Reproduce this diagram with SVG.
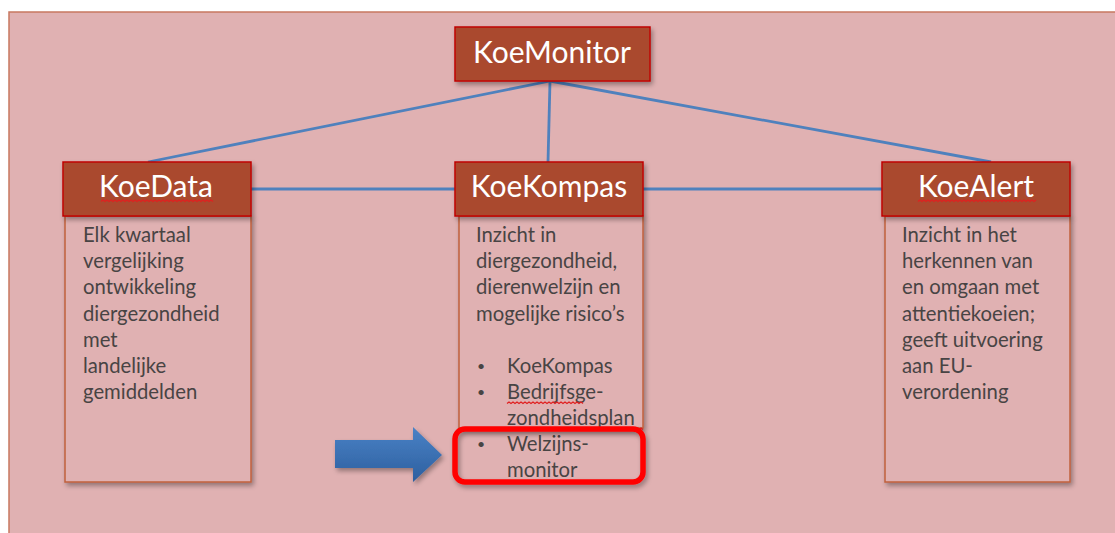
<svg xmlns="http://www.w3.org/2000/svg" width="1115" height="533" viewBox="0 0 1115 533">
<style>
.hdr{fill:#aa4a2e;stroke:#c00000;stroke-width:1.5}
.body{fill:#e0b1b2;stroke:#c0603c;stroke-width:1.5}
.ht{font-family:Lato,"Liberation Sans",sans-serif;font-size:30px;fill:#ffffff;text-anchor:middle}
.bt{font-family:Lato,"Liberation Sans",sans-serif;font-size:20.3px;fill:#484444}
.bul{font-family:Lato,"Liberation Sans",sans-serif;font-size:14px;fill:#484444}
.conn{stroke:#4f81bd;stroke-width:2.8;fill:none}
.wavy{stroke:#e02020;stroke-width:1.2;fill:none}
</style>
<defs>
<filter id="sh" x="-10%" y="-10%" width="130%" height="130%">
<feGaussianBlur in="SourceAlpha" stdDeviation="2.5"/>
<feOffset dx="2" dy="3" result="b"/>
<feComponentTransfer><feFuncA type="linear" slope="0.35"/></feComponentTransfer>
<feMerge><feMergeNode/><feMergeNode in="SourceGraphic"/></feMerge>
</filter>
<linearGradient id="ag" x1="0" y1="0" x2="0" y2="1">
<stop offset="0" stop-color="#4a82c6"/>
<stop offset="1" stop-color="#2d5f9f"/>
</linearGradient>
</defs>
<rect x="0" y="0" width="1115" height="533" fill="#ffffff"/>
<rect x="9" y="12" width="1115" height="530" fill="#e0b1b2" stroke="#c87860" stroke-width="1.5"/>
<g id="connectors">
<line class="conn" x1="550" y1="81" x2="148" y2="162"/>
<line class="conn" x1="550" y1="81" x2="548" y2="162"/>
<line class="conn" x1="550" y1="81" x2="991" y2="162"/>
<line class="conn" x1="251" y1="189" x2="455" y2="189"/>
<line class="conn" x1="643" y1="189" x2="882" y2="189"/>
</g>
<g id="koemonitor">
<rect class="hdr" x="455" y="27" width="195" height="54" filter="url(#sh)"/>
<text class="ht" x="552" y="63">KoeMonitor</text>
</g>
<g id="koedata">
<rect class="body" x="65" y="216" width="186" height="266" filter="url(#sh)"/>
<rect class="hdr" x="63" y="162" width="188" height="54" filter="url(#sh)"/>
<text class="ht" x="156" y="197">KoeData</text>
<path class="wavy" d="M101 201.5 l2 -1.5 l2 1.5 l2 -1.5 l2 1.5 l2 -1.5 l2 1.5 l2 -1.5 l2 1.5 l2 -1.5 l2 1.5 l2 -1.5 l2 1.5 l2 -1.5 l2 1.5 l2 -1.5 l2 1.5 l2 -1.5 l2 1.5 l2 -1.5 l2 1.5 l2 -1.5 l2 1.5 l2 -1.5 l2 1.5 l2 -1.5 l2 1.5 l2 -1.5 l2 1.5 l2 -1.5 l2 1.5 l2 -1.5 l2 1.5 l2 -1.5 l2 1.5 l2 -1.5 l2 1.5 l2 -1.5 l2 1.5 l2 -1.5 l2 1.5 l2 -1.5 l2 1.5 l2 -1.5 l2 1.5 l2 -1.5 l2 1.5 l2 -1.5 l2 1.5 l2 -1.5 l2 1.5 l2 -1.5 l2 1.5 l2 -1.5 l2 1.5 l2 -1.5 l2 1.5"/>
<text class="bt" x="83" y="242">Elk kwartaal</text>
<text class="bt" x="83" y="268">vergelijking</text>
<text class="bt" x="83" y="294">ontwikkeling</text>
<text class="bt" x="83" y="321">diergezondheid</text>
<text class="bt" x="83" y="347">met</text>
<text class="bt" x="83" y="373">landelijke</text>
<text class="bt" x="83" y="399">gemiddelden</text>
</g>
<g id="koekompas">
<rect class="body" x="459" y="216" width="184" height="212" filter="url(#sh)"/>
<rect class="hdr" x="455" y="162" width="188" height="54" filter="url(#sh)"/>
<text class="ht" x="549" y="197">KoeKompas</text>
<text class="bt" x="476" y="242">Inzicht in</text>
<text class="bt" x="476" y="268">diergezondheid,</text>
<text class="bt" x="476" y="294">dierenwelzijn en</text>
<text class="bt" x="476" y="321">mogelijke risico’s</text>
<text class="bul" x="477" y="371">•</text>
<text class="bt" x="507" y="373">KoeKompas</text>
<text class="bul" x="477" y="397">•</text>
<text class="bt" x="507" y="399">Bedrijfsge-</text>
<path class="wavy" d="M507 403.5 l2 -1.5 l2 1.5 l2 -1.5 l2 1.5 l2 -1.5 l2 1.5 l2 -1.5 l2 1.5 l2 -1.5 l2 1.5 l2 -1.5 l2 1.5 l2 -1.5 l2 1.5 l2 -1.5 l2 1.5 l2 -1.5 l2 1.5 l2 -1.5 l2 1.5 l2 -1.5 l2 1.5 l2 -1.5 l2 1.5 l2 -1.5 l2 1.5 l2 -1.5 l2 1.5 l2 -1.5 l2 1.5 l2 -1.5 l2 1.5 l2 -1.5 l2 1.5 l2 -1.5 l2 1.5 l2 -1.5 l2 1.5"/>
<text class="bt" x="507" y="425">zondheidsplan</text>
<path class="wavy" d="M507 429.5 l2 -1.5 l2 1.5 l2 -1.5 l2 1.5 l2 -1.5 l2 1.5 l2 -1.5 l2 1.5 l2 -1.5 l2 1.5 l2 -1.5 l2 1.5 l2 -1.5 l2 1.5 l2 -1.5 l2 1.5 l2 -1.5 l2 1.5 l2 -1.5 l2 1.5 l2 -1.5 l2 1.5 l2 -1.5 l2 1.5 l2 -1.5 l2 1.5 l2 -1.5 l2 1.5 l2 -1.5 l2 1.5 l2 -1.5 l2 1.5 l2 -1.5 l2 1.5 l2 -1.5 l2 1.5 l2 -1.5 l2 1.5 l2 -1.5 l2 1.5 l2 -1.5 l2 1.5 l2 -1.5 l2 1.5 l2 -1.5 l2 1.5 l2 -1.5 l2 1.5 l2 -1.5 l2 1.5 l2 -1.5 l2 1.5 l2 -1.5 l2 1.5 l2 -1.5 l2 1.5 l2 -1.5 l2 1.5 l2 -1.5 l2 1.5 l2 -1.5 l2 1.5 l2 -1.5 l2 1.5 l2 -1.5 l2 1.5 l2 -1.5 l2 1.5"/>
<text class="bul" x="477" y="449">•</text>
<text class="bt" x="507" y="451">Welzijns-</text>
<text class="bt" x="507" y="477">monitor</text>
</g>
<g id="koealert">
<rect class="body" x="885" y="216" width="185" height="266" filter="url(#sh)"/>
<rect class="hdr" x="882" y="162" width="188" height="54" filter="url(#sh)"/>
<text class="ht" x="976" y="197">KoeAlert</text>
<path class="wavy" d="M918 201.5 l2 -1.5 l2 1.5 l2 -1.5 l2 1.5 l2 -1.5 l2 1.5 l2 -1.5 l2 1.5 l2 -1.5 l2 1.5 l2 -1.5 l2 1.5 l2 -1.5 l2 1.5 l2 -1.5 l2 1.5 l2 -1.5 l2 1.5 l2 -1.5 l2 1.5 l2 -1.5 l2 1.5 l2 -1.5 l2 1.5 l2 -1.5 l2 1.5 l2 -1.5 l2 1.5 l2 -1.5 l2 1.5 l2 -1.5 l2 1.5 l2 -1.5 l2 1.5 l2 -1.5 l2 1.5 l2 -1.5 l2 1.5 l2 -1.5 l2 1.5 l2 -1.5 l2 1.5 l2 -1.5 l2 1.5 l2 -1.5 l2 1.5 l2 -1.5 l2 1.5 l2 -1.5 l2 1.5 l2 -1.5 l2 1.5 l2 -1.5 l2 1.5 l2 -1.5 l2 1.5 l2 -1.5 l2 1.5 l2 -1.5"/>
<text class="bt" x="902" y="242">Inzicht in het</text>
<text class="bt" x="902" y="268">herkennen van</text>
<text class="bt" x="902" y="294">en omgaan met</text>
<text class="bt" x="902" y="321">attentiekoeien;</text>
<text class="bt" x="902" y="347">geeft uitvoering</text>
<text class="bt" x="902" y="373">aan EU-</text>
<text class="bt" x="902" y="399">verordening</text>
</g>
<g id="highlight">
<rect x="455" y="429" width="188" height="53" rx="10" ry="10" fill="none" stroke="#ff0000" stroke-width="5.5" filter="url(#sh)"/>
</g>
<g id="arrow">
<path d="M335 440 L413 440 L413 427 L442 455 L413 482 L413 468 L335 468 Z" fill="url(#ag)" filter="url(#sh)"/>
</g>
</svg>
